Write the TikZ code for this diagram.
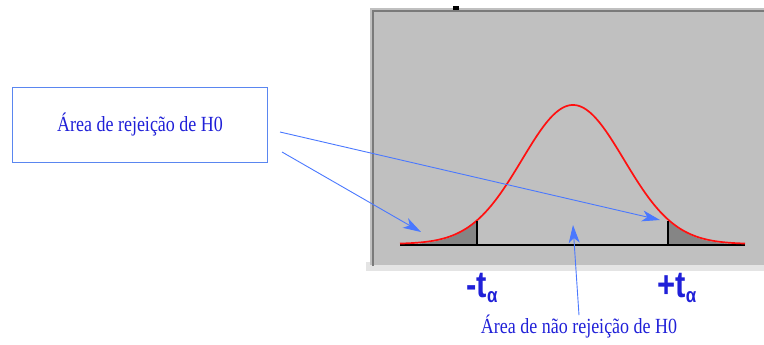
\documentclass[tikz,border=0pt]{standalone}
\usepackage{fontspec}
\setmainfont{Liberation Serif}
\newfontfamily\tfont{Liberation Sans}
\usetikzlibrary{arrows.meta, positioning}
\definecolor{panelgray}{HTML}{C0C0C0}
\definecolor{paneledge}{HTML}{7A7A7A}
\definecolor{panelstrip}{HTML}{E4E4E4}
\definecolor{tailgray}{HTML}{858585}
\definecolor{curvered}{HTML}{FF1010}
\definecolor{boxblue}{HTML}{5A86F0}
\definecolor{textblue}{HTML}{2020D8}
\definecolor{arrowblue}{HTML}{4A78FF}
\newcommand{\tall}[1]{\scalebox{1}[1.2]{#1}}

\begin{document}
\begin{tikzpicture}[x=1pt, y=-1pt,
    note/.style={rectangle, draw=boxblue, line width=1pt, fill=white, text=textblue, minimum width=255pt, minimum height=75pt, inner sep=0pt, font=\fontsize{18}{18}\selectfont},
    notetext/.style={text=textblue, inner sep=0pt, font=\fontsize{18}{18}\selectfont},
    tlabel/.style={text=textblue, inner sep=0pt, font=\tfont\bfseries\fontsize{31}{31}\selectfont},
    arrow/.style={-{Stealth[length=18pt, width=11pt, inset=5pt]}, arrowblue, line width=0.9pt},
    bell/.style={curvered, line width=1.7pt},
  ]
  \useasboundingbox (0,0) rectangle (764,345);

  % panel
  \fill[panelstrip] (366,262) rectangle (764,271);
  \fill[panelgray] (370,8) rectangle (764,265);
  \draw[paneledge, line width=2pt] (373,266) -- (373,11) -- (764,11);
  \fill[black] (453,6) rectangle (459,10);

  % tails
  \fill[tailgray] (420,245) -- plot[domain=420:477, samples=40] (\x, {245-140*exp(-((\x-573)/51)^2/2)}) -- (477,245) -- cycle;
  \fill[tailgray] (668,245) -- plot[domain=668:745, samples=40] (\x, {245-140*exp(-((\x-573)/51)^2/2)}) -- (745,245) -- cycle;

  % curve and axis
  \draw[black, line width=2pt] (400,245) -- (745,245);
  \draw[bell] plot[domain=400:745, samples=160] (\x, {244-139*exp(-((\x-573)/51)^2/2)});
  \draw[black, line width=1.8pt] (477,245) -- (477,221);
  \draw[black, line width=1.8pt] (668,245) -- (668,221);

  % labels
  \node[note] (rejbox) at (140,125) {\tall{Área de rejeição de H0}};
  \node[tlabel] (tminus) at (482,288) {\tall{-t\raisebox{-0.3ex}{\fontsize{17}{17}\selectfont α}}};
  \node[tlabel] (tplus) at (677,288) {\tall{+t\raisebox{-0.3ex}{\fontsize{17}{17}\selectfont α}}};
  \node[notetext] (naorej) at (579,327) {\tall{Área de não rejeição de H0}};

  % arrows
  \coordinate (startA) at (280,132);
  \coordinate (startB) at (282,152);
  \coordinate (tipL) at (421,232);
  \coordinate (tipR) at (660,220);
  \coordinate (tipM) at (573,225);
  \draw[arrow] (startA) -- (tipR);
  \draw[arrow] (startB) -- (tipL);
  \draw[arrow] (naorej.north) -- (tipM);
\end{tikzpicture}
\end{document}
